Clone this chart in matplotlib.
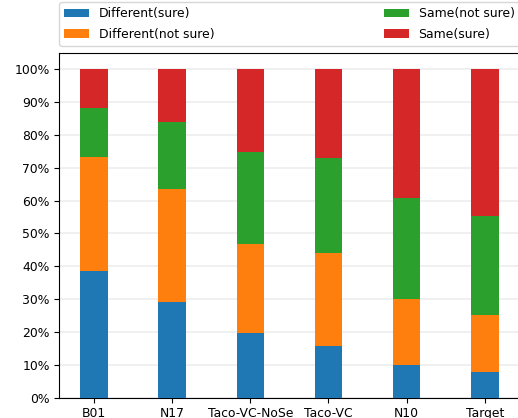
import matplotlib
matplotlib.use("Agg")
import matplotlib.pyplot as plt
import numpy as np
from matplotlib.ticker import PercentFormatter

categories = ["B01", "N17", "Taco-VC-NoSe", "Taco-VC", "N10", "Target"]
diff_sure = [38.5, 29.1, 19.7, 15.8, 10.1, 7.9]
diff_not_sure = [34.8, 34.3, 27.0, 28.1, 19.9, 17.2]
same_not_sure = [14.8, 20.6, 28.1, 28.9, 30.7, 30.1]
same_sure = [11.9, 16.0, 25.2, 27.2, 39.3, 44.8]

series = [
    ("Different(sure)", diff_sure, "#1f77b4"),
    ("Different(not sure)", diff_not_sure, "#ff7f0e"),
    ("Same(not sure)", same_not_sure, "#2ca02c"),
    ("Same(sure)", same_sure, "#d62728"),
]

fs = 8.9
fig = plt.figure(figsize=(5.18, 4.18), dpi=100)
ax = fig.add_axes([59.3 / 518, 1 - 397.7 / 418, (519.5 - 59.3) / 518, (397.7 - 52.7) / 418])

x = np.arange(len(categories))
bottom = np.zeros(len(categories))
for label, vals, color in series:
    v = np.array(vals) / 100.0
    ax.bar(x, v, 0.35, bottom=bottom, color=color, label=label, zorder=3)
    bottom += v

ax.set_xticks(x)
ax.set_xticklabels(categories, fontsize=fs)
ax.set_yticks(np.arange(0, 1.01, 0.1))
ax.yaxis.set_major_formatter(PercentFormatter(1.0, decimals=0))
ax.tick_params(axis="y", labelsize=fs)
ax.yaxis.grid(True, color="#ededed", linewidth=1.2, zorder=0)
ax.set_axisbelow(True)
ax.set_ylim(0, 1.05)

ax.legend(bbox_to_anchor=(0.0, 1.02, 1.0, 0.102), loc="lower left", ncol=2,
          mode="expand", borderaxespad=0.0, fontsize=fs, labelspacing=0.6)

fig.savefig("out.png", dpi=100)
